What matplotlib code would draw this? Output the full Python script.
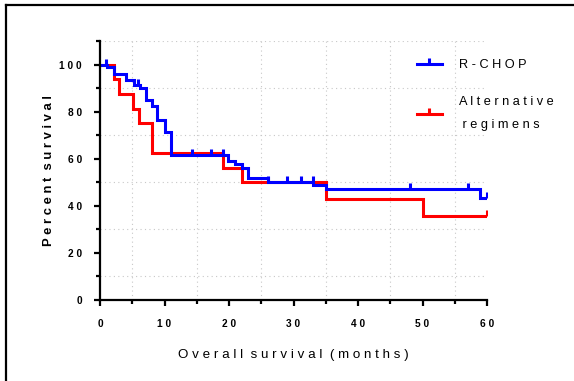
import numpy as np
import matplotlib.pyplot as plt
from matplotlib.path import Path
from matplotlib.lines import Line2D

plt.rcParams['font.family'] = ['Liberation Sans', 'DejaVu Sans']

# R-CHOP curve (months, percent surviving)
rchop_t = [0, 1.1, 2.1, 4.1, 5.2, 6.2, 7.1, 8.0, 8.9, 10.1, 11.0, 19.9, 20.9,
           22.0, 22.9, 26.1, 33.1, 35.0, 58.9, 60]
rchop_s = [100, 98.9, 95.8, 93.5, 91.5, 90.1, 85.0, 82.6, 76.3, 71.3, 61.4, 59.0,
           57.6, 56.2, 51.8, 50.1, 48.7, 47.0, 43.5, 43.5]
rchop_cens = [1.0, 5.9, 14.2, 17.2, 19.1, 26.1, 29.0, 31.1, 33.0, 48.0, 57.0, 60]

# alternative regimens curve
alt_t = [0, 2.1, 3.0, 5.1, 6.1, 8.0, 19.0, 22.0, 35.0, 50.0, 60]
alt_s = [100, 93.75, 87.5, 81.25, 75, 62.5, 56.25, 50, 42.9, 35.7, 35.7]
alt_cens = [60]

xticklabels = ["0", "1 0", "2 0", "3 0", "4 0", "5 0", "6 0"]
yticklabels = ["0", "2 0", "4 0", "6 0", "8 0", "1 0 0"]

uptick = Path([(0, 0), (0, 1)])


def level_at(t, s, x):
    idx = np.searchsorted(t, x, side="right") - 1
    return np.asarray(s)[idx]


fig = plt.figure(figsize=(5.74, 3.81), dpi=100)
ax = fig.add_axes([100 / 574, 1 - 300 / 381, 387 / 574, 259 / 381])

for t, s, cens, col in [(alt_t, alt_s, alt_cens, "#ff0000"),
                        (rchop_t, rchop_s, rchop_cens, "#0000ff")]:
    ax.step(t, s, where="post", color=col, lw=2.2, solid_joinstyle="miter")
    ax.plot(cens, level_at(t, s, cens), ls="none", marker=uptick,
            ms=9, mew=2.2, color=col)

ax.set_xlim(0, 60)
ax.set_ylim(0, 110)
ax.set_xticks(range(0, 61, 10))
ax.set_xticklabels(xticklabels)
ax.set_yticks(range(0, 101, 20))
ax.set_yticklabels(yticklabels)
ax.set_xticks(range(5, 60, 10), minor=True)
ax.set_yticks(range(10, 111, 20), minor=True)
ax.grid(which="minor", ls=(0, (1, 3)), color="#c8c8c8", lw=0.8)
for lab in ax.get_xticklabels() + ax.get_yticklabels():
    lab.set_fontweight("bold")
ax.tick_params(which="major", length=4, width=1.6, labelsize=7.3)
ax.tick_params(axis="x", which="major", pad=10)
ax.tick_params(axis="y", which="major", pad=9)
ax.tick_params(which="minor", length=3, width=1.6)
for side in ["top", "right"]:
    ax.spines[side].set_visible(False)
for side in ["left", "bottom"]:
    ax.spines[side].set_linewidth(1.6)

ax.set_xlabel("O v e r a l l  s u r v i v a l  ( m o n t h s )", fontsize=9.6, labelpad=14)
ax.set_ylabel("P e r c e n t  s u r v i v a l", fontsize=9.4, fontweight="bold", labelpad=3)

handles = [Line2D([], [], color="#0000ff", lw=2.2, marker=uptick, ms=9, mew=2.2),
           Line2D([], [], color="#ff0000", lw=2.2, marker=uptick, ms=9, mew=2.2)]
leg = fig.legend(handles, ["R - C H O P", "A l t e r n a t i v e\n r e g i m e n s"],
                 loc="upper left", bbox_to_anchor=(405 / 574, 1 - 48 / 381),
                 frameon=False, fontsize=9.2, numpoints=1, handlelength=2.0,
                 handletextpad=1.3, labelspacing=1.9)
for txt in leg.get_texts():
    txt.set_linespacing(2.3)

# outer frame
fig.add_artist(Line2D([6 / 574, 6 / 574], [0, 1 - 5 / 381], color="black", lw=1.6))
fig.add_artist(Line2D([6 / 574, 1], [1 - 5 / 381, 1 - 5 / 381], color="black", lw=1.6))

fig.savefig("out.png", dpi=100)
